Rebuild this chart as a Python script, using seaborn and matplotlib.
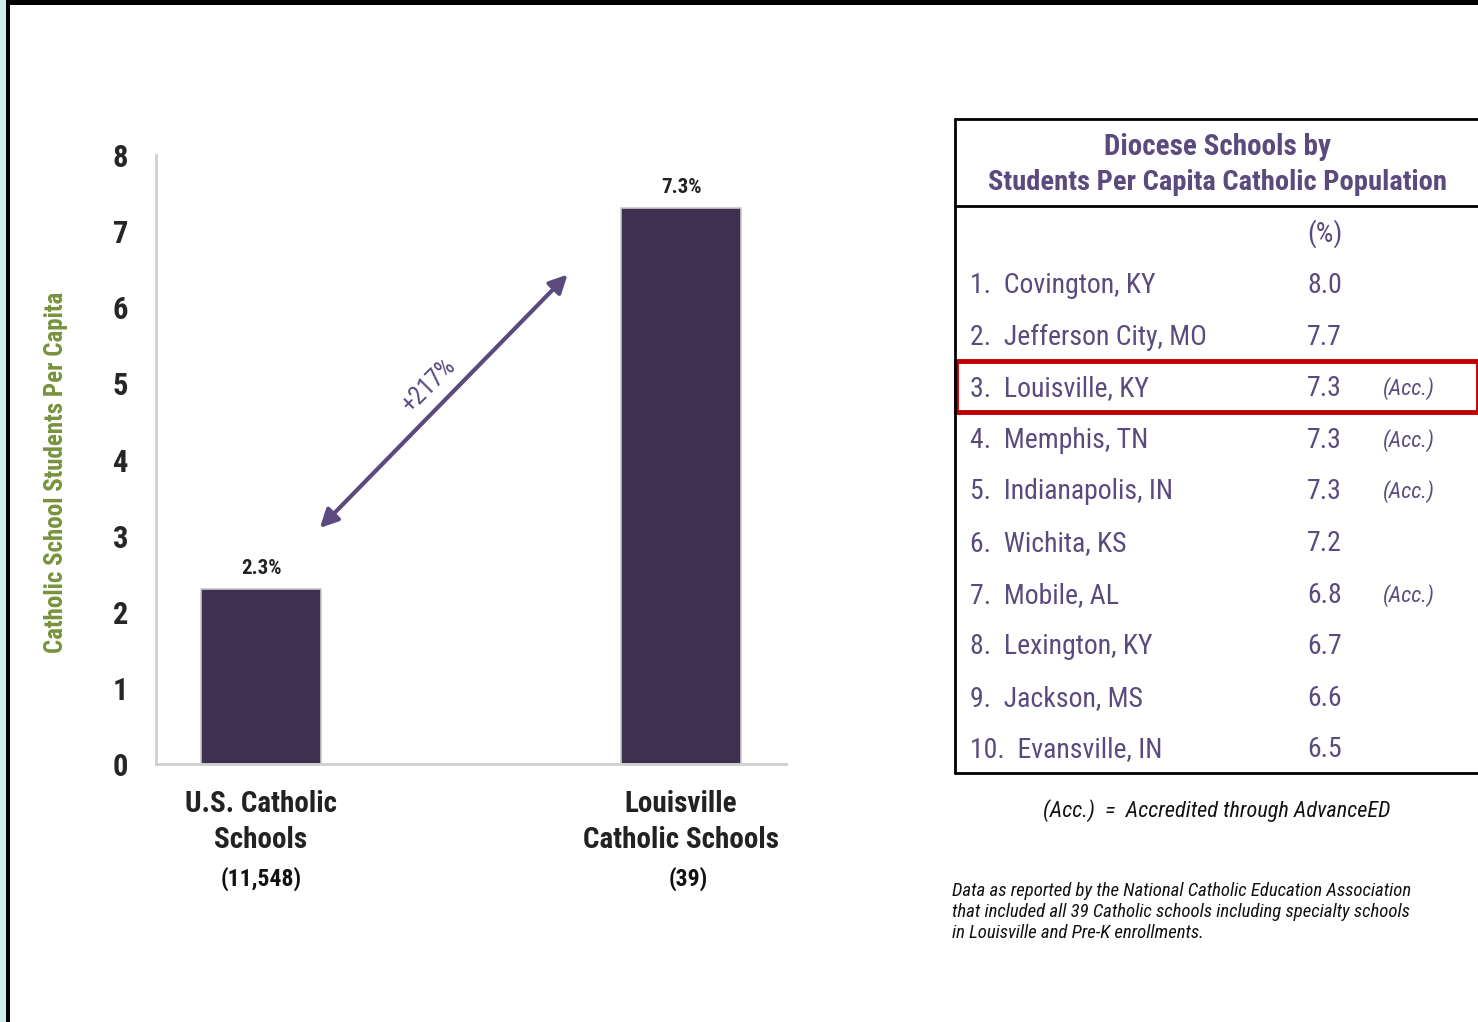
import matplotlib
matplotlib.use("Agg")
from matplotlib import pyplot as plt
from matplotlib import font_manager
from matplotlib.patches import Rectangle
from pandas import DataFrame
import seaborn as sns

# bar chart data
groups = ["U.S. Catholic\nSchools", "Louisville\nCatholic Schools"]
school_counts = ["(11,548)", "(39)"]
per_capita = [2.3, 7.3]
change_label = "+217%"

# table data
ranks = ["1.", "2.", "3.", "4.", "5.", "6.", "7.", "8.", "9.", "10."]
dioceses = ["Covington, KY", "Jefferson City, MO", "Louisville, KY", "Memphis, TN",
            "Indianapolis, IN", "Wichita, KS", "Mobile, AL", "Lexington, KY",
            "Jackson, MS", "Evansville, IN"]
pct = [8.0, 7.7, 7.3, 7.3, 7.3, 7.2, 6.8, 6.7, 6.6, 6.5]
accredited = [False, False, True, True, True, False, True, False, False, False]
highlight = "Louisville, KY"

BAR = "#3f2f50"
PURPLE = "#5b4a7e"
GREEN = "#77933c"

sns.set_theme(style="white")


def pick_font(names):
    for n in names:
        try:
            font_manager.findfont(n, fallback_to_default=False)
            return n
        except Exception:
            continue
    return "DejaVu Sans"


narrow = pick_font(["Liberation Sans Narrow", "Arial Narrow", "Roboto Condensed", "Liberation Sans"])
plt.rcParams["font.family"] = [narrow, "DejaVu Sans"]

W, H = 1478, 1022
fig = plt.figure(figsize=(W / 100, H / 100), dpi=100)


def fx(px):
    return px / W


def fy(py):
    return 1 - py / H


ax = fig.add_axes([fx(156), fy(764), fx(786) - fx(156), fy(155) - fy(764)])
df = DataFrame({"group": groups, "value": per_capita})
sns.barplot(data=df, x="group", y="value", color=BAR, width=0.286, saturation=1,
            edgecolor="#c8c8c8", linewidth=1.2, ax=ax)
ax.set_xlim(-0.25, 1.25)
ax.set_ylim(0, 8)
ax.set_yticks(range(0, 9))
ax.tick_params(axis="y", length=0, pad=20, labelsize=22)
for t in ax.get_yticklabels():
    t.set_fontweight("bold")
ax.set_xticks([])
ax.set_xlabel("")
ax.set_ylabel("")
for s in ["top", "right"]:
    ax.spines[s].set_visible(False)
for s in ["left", "bottom"]:
    ax.spines[s].set_color("#d0d0d0")
    ax.spines[s].set_linewidth(2)

for i, v in enumerate(per_capita):
    ax.annotate(f"{v}%", (i, v), xytext=(0, 8), textcoords="offset points",
                ha="center", va="bottom", fontsize=15, fontweight="bold", color="#222222")

# group labels under the bars
for i, (g, n) in enumerate(zip(groups, school_counts)):
    ax.annotate(g, (i, 0), xycoords=("data", "axes fraction"), xytext=(0, -19),
                textcoords="offset points", ha="center", va="top", fontsize=21,
                fontweight="bold", color="#222222", linespacing=1.35)
    ax.annotate(n, (i + 0.017 * i, 0), xycoords=("data", "axes fraction"), xytext=(0, -74),
                textcoords="offset points", ha="center", va="top", fontsize=17,
                fontweight="bold", color="#111111")

fig.text(fx(56), fy(472), "Catholic School Students Per Capita", rotation=90,
         ha="center", va="center", fontsize=18, fontweight="bold", color=GREEN)

# double-headed change arrow
ax.annotate("", xy=(0.73, 6.43), xytext=(0.14, 3.10),
            arrowprops=dict(arrowstyle="<|-|>,head_length=0.9,head_width=0.45",
                            color=PURPLE, lw=3, shrinkA=0, shrinkB=0))
ax.text(0.40, 4.98, change_label, rotation=45, ha="center", va="center",
        fontsize=18, color=PURPLE, rotation_mode="anchor")

# table on the right
ln = dict(color="black", lw=2, transform=fig.transFigure)
fig.add_artist(plt.Line2D([fx(955), fx(955)], [fy(119), fy(773)], **ln))
fig.add_artist(plt.Line2D([fx(955), 1], [fy(119), fy(119)], **ln))
fig.add_artist(plt.Line2D([fx(955), 1], [fy(206), fy(206)], **ln))
fig.add_artist(plt.Line2D([fx(955), 1], [fy(773), fy(773)], **ln))

fig.text(fx(1217), fy(147), "Diocese Schools by", ha="center", va="center",
         fontsize=21, fontweight="bold", color=PURPLE)
fig.text(fx(1217), fy(183), "Students Per Capita Catholic Population", ha="center",
         va="center", fontsize=20.5, fontweight="bold", color=PURPLE)
fig.text(fx(1325), fy(234), "(%)", ha="center", va="center", fontsize=20, color=PURPLE)

row0, step = 285.5, 51.6
for i, (r, d, p, a) in enumerate(zip(ranks, dioceses, pct, accredited)):
    y = fy(row0 + i * step)
    fig.text(fx(970), y, f"{r}  {d}", ha="left", va="center", fontsize=20, color=PURPLE)
    fig.text(fx(1307), y, f"{p:.1f}", ha="left", va="center", fontsize=20, color=PURPLE)
    if a:
        fig.text(fx(1383), y, "(Acc.)", ha="left", va="center", fontsize=16,
                 style="italic", color=PURPLE)
    if d == highlight:
        fig.add_artist(Rectangle((fx(956), fy(412)), 1 - fx(956), fy(361) - fy(412),
                                 transform=fig.transFigure, fill=False,
                                 edgecolor="#c00000", lw=3.5))

fig.text(fx(1217), fy(811), "(Acc.)  =  Accredited through AdvanceED", ha="center",
         va="center", fontsize=16, style="italic", color="#111111")
fig.text(fx(952), fy(912), "Data as reported by the National Catholic Education Association\n"
         "that included all 39 Catholic schools including specialty schools\n"
         "in Louisville and Pre-K enrollments.", ha="left", va="center", fontsize=13.5,
         style="italic", color="#111111", linespacing=1.25)

# slide frame
fig.add_artist(Rectangle((0, 0), fx(6), 1, transform=fig.transFigure, color="#d2e9e9", lw=0))
fig.add_artist(Rectangle((fx(6), 0), fx(4), 1, transform=fig.transFigure, color="black", lw=0))
fig.add_artist(Rectangle((fx(6), fy(5)), 1, fy(0) - fy(5), transform=fig.transFigure,
                         color="black", lw=0))

fig.savefig("out.png", dpi=100)
plt.close(fig)
